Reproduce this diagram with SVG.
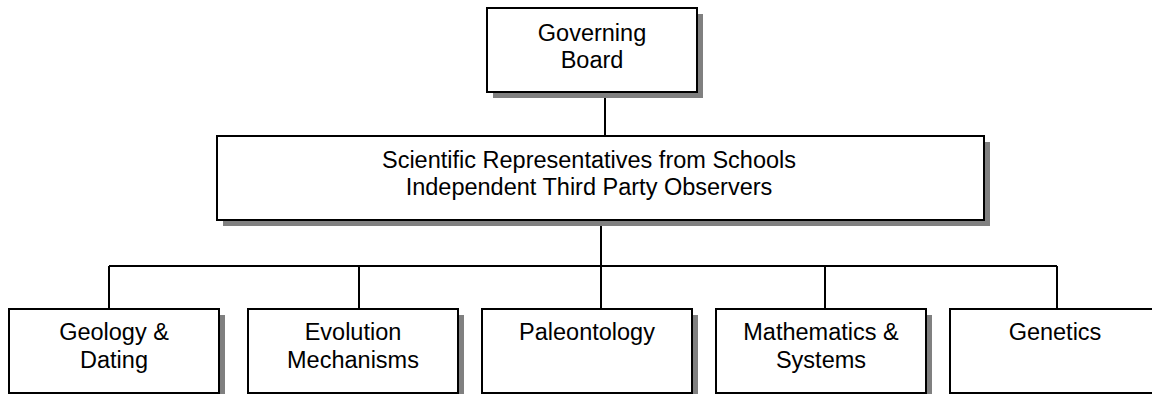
<svg xmlns="http://www.w3.org/2000/svg" width="1152" height="394" viewBox="0 0 1152 394">
<style>
.box{fill:#ffffff;stroke:#000000;stroke-width:2}
.shadow{fill:#808080;stroke:none}
.conn{fill:none;stroke:#000000;stroke-width:2}
text{font-family:"Liberation Sans",Arial,sans-serif;font-size:23.5px;fill:#000000;text-anchor:middle}
</style>
<rect width="1152" height="394" fill="#ffffff"/>
<g id="connectors">
<line class="conn" x1="605" y1="92" x2="605" y2="136"/>
<line class="conn" x1="601" y1="220" x2="601" y2="266"/>
<line class="conn" x1="109" y1="266" x2="1057" y2="266"/>
<line class="conn" x1="109" y1="266" x2="109" y2="309"/>
<line class="conn" x1="359" y1="266" x2="359" y2="309"/>
<line class="conn" x1="601" y1="266" x2="601" y2="309"/>
<line class="conn" x1="825" y1="266" x2="825" y2="309"/>
<line class="conn" x1="1057" y1="266" x2="1057" y2="309"/>
</g>
<g id="governing-board">
<rect class="shadow" x="493" y="14" width="210" height="84"/>
<rect class="box" x="487" y="8" width="210" height="84"/>
<text x="592" y="41">Governing</text>
<text x="592" y="68">Board</text>
</g>
<g id="representatives">
<rect class="shadow" x="223" y="142" width="767" height="84"/>
<rect class="box" x="217" y="136" width="767" height="84"/>
<text x="589" y="168">Scientific Representatives from Schools</text>
<text x="589" y="195">Independent Third Party Observers</text>
</g>
<g id="geology">
<rect class="shadow" x="15" y="315" width="210" height="84"/>
<rect class="box" x="9" y="309" width="210" height="84"/>
<text x="114" y="340">Geology &amp;</text>
<text x="114" y="368">Dating</text>
</g>
<g id="evolution">
<rect class="shadow" x="254" y="315" width="210" height="84"/>
<rect class="box" x="248" y="309" width="210" height="84"/>
<text x="353" y="340">Evolution</text>
<text x="353" y="368">Mechanisms</text>
</g>
<g id="paleontology">
<rect class="shadow" x="488" y="315" width="210" height="84"/>
<rect class="box" x="482" y="309" width="210" height="84"/>
<text x="587" y="340">Paleontology</text>
</g>
<g id="mathematics">
<rect class="shadow" x="722" y="315" width="210" height="84"/>
<rect class="box" x="716" y="309" width="210" height="84"/>
<text x="821" y="340">Mathematics &amp;</text>
<text x="821" y="368">Systems</text>
</g>
<g id="genetics">
<rect class="shadow" x="956" y="315" width="210" height="84"/>
<rect class="box" x="950" y="309" width="210" height="84"/>
<text x="1055" y="340">Genetics</text>
</g>
</svg>
